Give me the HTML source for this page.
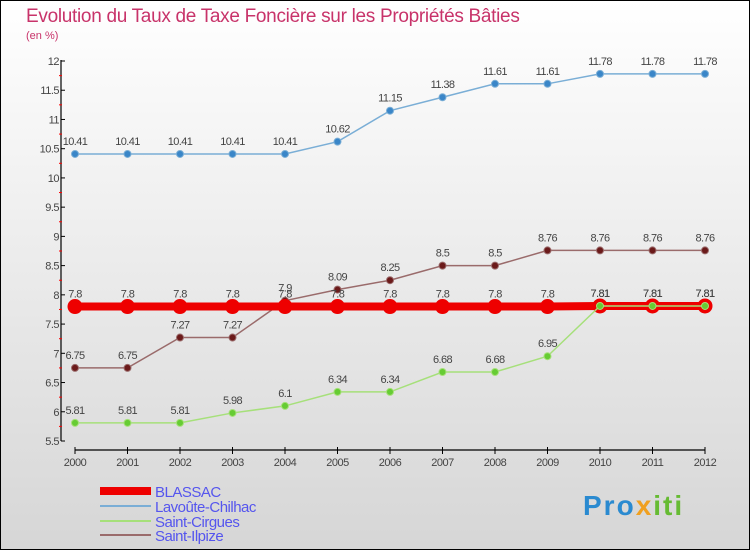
<!DOCTYPE html>
<html><head><meta charset="utf-8"><style>
body{margin:0;}
#c{width:750px;height:550px;position:relative;overflow:hidden;}
svg text{font-family:"Liberation Sans",sans-serif;}
</style></head><body>
<div id="c">
<svg id="s" width="750" height="550" xmlns="http://www.w3.org/2000/svg">
<defs><linearGradient id="bg" x1="0" y1="0" x2="0" y2="1"><stop offset="0" stop-color="#ffffff"/><stop offset="1" stop-color="#d6d6d6"/></linearGradient></defs>
<rect x="0.5" y="0.5" width="749" height="549" fill="url(#bg)" stroke="#000"/>
<text x="26" y="22" font-size="19" fill="#c8336a" letter-spacing="-0.3">Evolution du Taux de Taxe Foncière sur les Propriétés Bâties</text>
<text x="26" y="39" font-size="11" fill="#c8336a">(en %)</text>
<g id="axes"></g><g id="series"></g><g id="legend"></g>
</svg></div>
<script>
const years=[2000,2001,2002,2003,2004,2005,2006,2007,2008,2009,2010,2011,2012];
const blassac=[7.8,7.8,7.8,7.8,7.8,7.8,7.8,7.8,7.8,7.8,7.81,7.81,7.81];
const lavoute=[10.41,10.41,10.41,10.41,10.41,10.62,11.15,11.38,11.61,11.61,11.78,11.78,11.78];
const cirgues=[5.81,5.81,5.81,5.98,6.1,6.34,6.34,6.68,6.68,6.95,7.81,7.81,7.81];
const ilpize=[6.75,6.75,7.27,7.27,7.9,8.09,8.25,8.5,8.5,8.76,8.76,8.76,8.76];
const yTicks=[5.5,6,6.5,7,7.5,8,8.5,9,9.5,10,10.5,11,11.5,12];
const NS="http://www.w3.org/2000/svg";
const X=i=>75+i*52.5;
const Y=v=>441-(v-5.5)*(380/6.5);
function mk(tag,attrs,parent,txt){const e=document.createElementNS(NS,tag);for(const k in attrs)e.setAttribute(k,attrs[k]);if(txt!==undefined)e.textContent=txt;parent.appendChild(e);return e;}
const ax=document.getElementById('axes');
let e=mk('line',{x1:61,y1:60,x2:61,y2:441,stroke:'#000','stroke-width':1.2},ax);

yTicks.forEach((t,i)=>{
  const y=Y(t);
  mk('line',{x1:61,y1:y,x2:65,y2:y,stroke:'#000'},ax);
  if(i<yTicks.length-1)mk('line',{x1:59,y1:Y(t+0.25),x2:62,y2:Y(t+0.25),stroke:'#f00'},ax);
  const l=mk('text',{x:59,y:y+4,'font-size':11,fill:'#444','text-anchor':'end','letter-spacing':'-0.5'},ax,String(t));
  
});
e=mk('line',{x1:75,y1:450,x2:705,y2:450,stroke:'#000','stroke-width':1.2},ax);

years.forEach((yr,i)=>{
  mk('line',{x1:X(i),y1:447,x2:X(i),y2:454,stroke:'#000'},ax);
  const l=mk('text',{x:X(i),y:466,'font-size':11,fill:'#444','text-anchor':'middle','letter-spacing':'-0.5'},ax,String(yr));
  
});
const sg=document.getElementById('series');
function series(vals,color,fill,w,r,name){
  const g=mk('g',{},sg);
  
  const p=mk('polyline',{points:vals.map((v,i)=>X(i)+','+Y(v)).join(' '),fill:'none',stroke:color,'stroke-width':w},g);
  
  vals.forEach((v,i)=>{
    const c=mk('circle',{cx:X(i),cy:Y(v),r:r,fill:fill,stroke:color,'stroke-width':1},g);
    
    const t=mk('text',{x:X(i),y:Y(v)-9,'font-size':11,fill:'#444','text-anchor':'middle','letter-spacing':'-0.6'},g,String(v));
    
  });
}
series(lavoute,'#7aaed6','#3a86c8',1.5,3.5,'lavoute-chilhac');
series(ilpize,'#9a6b6b','#6b1a1a',1.5,3.5,'saint-ilpize');
series(blassac,'#ee0000','#ee0000',8,7,'blassac');
series(cirgues,'#a6e07a','#66cc33',1.5,3.5,'saint-cirgues');
const lg=document.getElementById('legend');
const leg=[['BLASSAC','#ee0000',8,494],['Lavoûte-Chilhac','#7aaed6',2,509],['Saint-Cirgues','#a6e07a',2,524],['Saint-Ilpize','#9a6b6b',2,538]];
leg.forEach(([n,c,w,y])=>{
  const g=mk('g',{},lg);
  
  mk('line',{x1:100,y1:y-3,x2:151,y2:y-3,stroke:c,'stroke-width':w},g);
  mk('text',{x:155,y:y+3,'font-size':15,fill:'#5555ee','letter-spacing':'-0.5'},g,n);
});
const pr=mk('text',{x:583,y:515,'font-size':28,'font-weight':'bold',fill:'#2a8ad0','letter-spacing':'2'},lg,'Pro');

mk('tspan',{fill:'#f0a020'},pr,'x');
mk('tspan',{fill:'#66bb33'},pr,'iti');
</script>
</body></html>
